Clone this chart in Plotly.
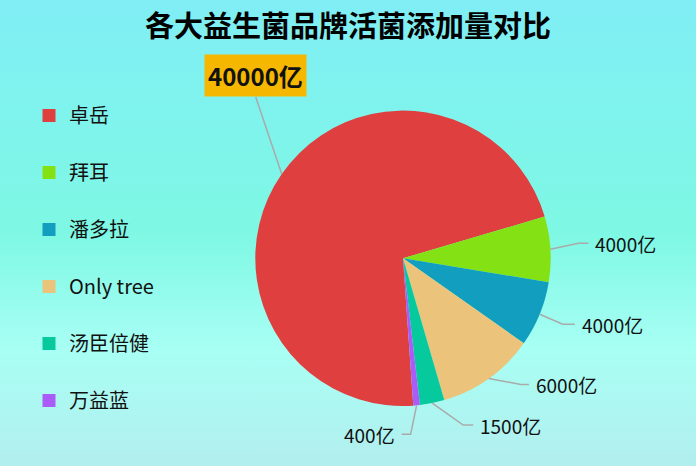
import base64
import math

import plotly.graph_objects as go

# data
brands = ["卓岳", "拜耳", "潘多拉", "Only tree", "汤臣倍健", "万益蓝"]
amounts = [40000, 4000, 4000, 6000, 1500, 400]
amount_labels = ["40000亿", "4000亿", "4000亿", "6000亿", "1500亿", "400亿"]
colors = ["#e03f3f", "#84e214", "#119ebf", "#ebc37a", "#06c99e", "#a95cf7"]

W, H = 696, 466
CX, CY, R = 403, 258.3, 147.7
ROTATION = 176
FONT = "Noto Sans CJK SC"

# leader line shape: elbow offset from slice edge (px) and horizontal tail length
elbow_offsets = [(-26, -77), (28, -6), (23, 10), (32, 6), (31, 22), (-6, 29)]
tail_lengths = [0, 10, 12, 8, 10, -9]


def to_paper(px, py):
    return px / W, 1 - py / H


def svg_uri(svg):
    return "data:image/svg+xml;base64," + base64.b64encode(svg.encode()).decode()


def build_background():
    return svg_uri(
        '<svg xmlns="http://www.w3.org/2000/svg" width="696" height="466">'
        '<defs><linearGradient id="g" x1="0" y1="0" x2="0" y2="1">'
        '<stop offset="0" stop-color="#80eef5"/>'
        '<stop offset="0.5" stop-color="#7ef8e4"/>'
        '<stop offset="0.75" stop-color="#a8fff4"/>'
        '<stop offset="1" stop-color="#b2eeee"/>'
        "</linearGradient></defs>"
        '<rect width="696" height="466" fill="url(#g)"/></svg>'
    )


def build_shadow():
    # soft halo under the pie, like the echarts shadowBlur
    return svg_uri(
        '<svg xmlns="http://www.w3.org/2000/svg" width="696" height="466">'
        '<defs><filter id="b" x="-20%" y="-20%" width="140%" height="140%">'
        '<feGaussianBlur stdDeviation="4"/></filter></defs>'
        f'<circle cx="{CX}" cy="{CY}" r="{R}" fill="#1a4a4a" '
        'fill-opacity="0.45" filter="url(#b)"/></svg>'
    )


fig = go.Figure()

x0, y_top = to_paper(CX - R, CY - R)
x1, y_bot = to_paper(CX + R, CY + R)
fig.add_trace(
    go.Pie(
        labels=brands,
        values=amounts,
        sort=False,
        direction="clockwise",
        rotation=ROTATION,
        marker=dict(colors=colors, line=dict(width=0)),
        textinfo="none",
        hoverinfo="label+value",
        showlegend=False,
        domain=dict(x=[x0, x1], y=[y_bot, y_top]),
    )
)

# legend entries with wide spacing
for name, c in zip(brands, colors):
    fig.add_trace(
        go.Scatter(
            x=[None],
            y=[None],
            mode="markers",
            name=name,
            legendgroup=name,
            marker=dict(symbol="square", size=13, color=c),
        )
    )

# leader lines and value labels, placed from slice angles
total = sum(amounts)
cum = 0
shapes = []
annotations = []
for i, v in enumerate(amounts):
    mid = math.radians(ROTATION + 360 * (cum + v / 2) / total)
    cum += v
    ex = CX + R * math.sin(mid)
    ey = CY - R * math.cos(mid)
    bx = ex + elbow_offsets[i][0]
    by = ey + elbow_offsets[i][1]
    tx = bx + tail_lengths[i]
    ty = by
    p = [to_paper(ex, ey), to_paper(bx, by), to_paper(tx, ty)]
    shapes.append(
        dict(
            type="path",
            xref="paper",
            yref="paper",
            path=f"M {p[0][0]},{p[0][1]} L {p[1][0]},{p[1][1]} L {p[2][0]},{p[2][1]}",
            line=dict(color="#aaaaaa", width=1.5),
        )
    )
    ax, ay = to_paper(tx, ty)
    if i == 0:
        annotations.append(
            dict(
                x=ax, y=ay, xref="paper", yref="paper",
                text=f"<b>{amount_labels[i]}</b>",
                showarrow=False, xanchor="center", yanchor="bottom",
                bgcolor="#f5b700", borderpad=3,
                font=dict(family=FONT, size=24, color="#111111"),
            )
        )
    else:
        right = tail_lengths[i] >= 0
        annotations.append(
            dict(
                x=ax, y=ay, xref="paper", yref="paper",
                text=amount_labels[i],
                showarrow=False,
                xanchor="left" if right else "right",
                yanchor="middle",
                xshift=5 if right else -5,
                font=dict(family=FONT, size=19, color="#111111"),
            )
        )

fig.update_layout(
    width=W,
    height=H,
    margin=dict(l=0, r=0, t=0, b=0),
    paper_bgcolor="rgba(0,0,0,0)",
    plot_bgcolor="rgba(0,0,0,0)",
    title=dict(
        text="<b>各大益生菌品牌活菌添加量对比</b>",
        x=0.5, xanchor="center", y=1 - 27 / H, yanchor="middle",
        font=dict(family=FONT, size=29, color="#000000"),
    ),
    xaxis=dict(visible=False),
    yaxis=dict(visible=False),
    legend=dict(
        x=29 / W, xanchor="left", y=1 - 96 / H, yanchor="top",
        font=dict(family=FONT, size=20, color="#111111"),
        tracegroupgap=28,
        bgcolor="rgba(0,0,0,0)",
    ),
    images=[
        dict(
            source=build_background(),
            xref="paper", yref="paper", x=0, y=1, sizex=1, sizey=1,
            sizing="stretch", xanchor="left", yanchor="top", layer="below",
        ),
        dict(
            source=build_shadow(),
            xref="paper", yref="paper", x=0, y=1, sizex=1, sizey=1,
            sizing="stretch", xanchor="left", yanchor="top", layer="below",
        ),
    ],
    shapes=shapes,
    annotations=annotations,
)

# drop the default page margin so the figure fills the window
fig.write_html(
    "out.html",
    config={"displayModeBar": False},
    post_script="document.body.style.margin='0';",
)
